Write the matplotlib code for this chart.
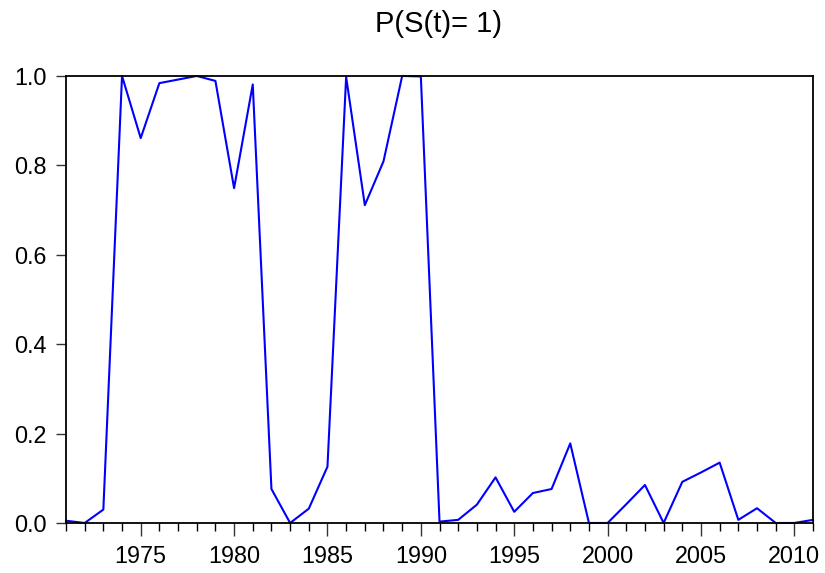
import matplotlib
matplotlib.use("Agg")
import matplotlib.pyplot as plt
from matplotlib.ticker import MultipleLocator

plt.rcParams['font.family'] = ['Liberation Sans', 'DejaVu Sans']

years = list(range(1971, 2012))
prob = [
    0.005, 0.000, 0.030, 1.000, 0.861, 0.984, 0.992, 1.000, 0.989, 0.749,
    0.981, 0.076, 0.000, 0.032, 0.126, 0.998, 0.711, 0.809, 1.000, 0.999,
    0.003, 0.007, 0.041, 0.102, 0.025, 0.067, 0.076, 0.178, 0.000, 0.000,
    0.042, 0.085, 0.000, 0.092, 0.113, 0.135, 0.007, 0.033, 0.000, 0.000,
    0.007,
]
title = "P(S(t)= 1)"

fig = plt.figure(figsize=(8.25, 5.73), dpi=100)
ax = fig.add_axes([0.08, 0.0873, 0.9055, 0.7801])

ax.plot(years, prob, color=(0, 0, 1), lw=1.5, clip_on=False)

ax.set_xlim(1971, 2011)
ax.set_ylim(0, 1.0)
ax.xaxis.set_major_locator(MultipleLocator(5))
ax.xaxis.set_minor_locator(MultipleLocator(1))
ax.yaxis.set_major_locator(MultipleLocator(0.2))
ax.yaxis.set_major_formatter(plt.FuncFormatter(lambda v, p: "%.1f" % v))

ax.tick_params(axis='both', labelsize=16.8, direction='out', width=1.0, color='#333333')
ax.tick_params(axis='x', which='major', length=9, pad=7)
ax.tick_params(axis='x', which='minor', length=5.5, width=1.0)
ax.tick_params(axis='y', length=7, pad=7)
ax.tick_params(top=False, right=False)

for sp in ax.spines.values():
    sp.set_linewidth(1.3)
    sp.set_color('black')

fig.text(0.531, 0.944, title, ha='center', va='baseline', fontsize=21)

fig.savefig("out.png", dpi=100)
